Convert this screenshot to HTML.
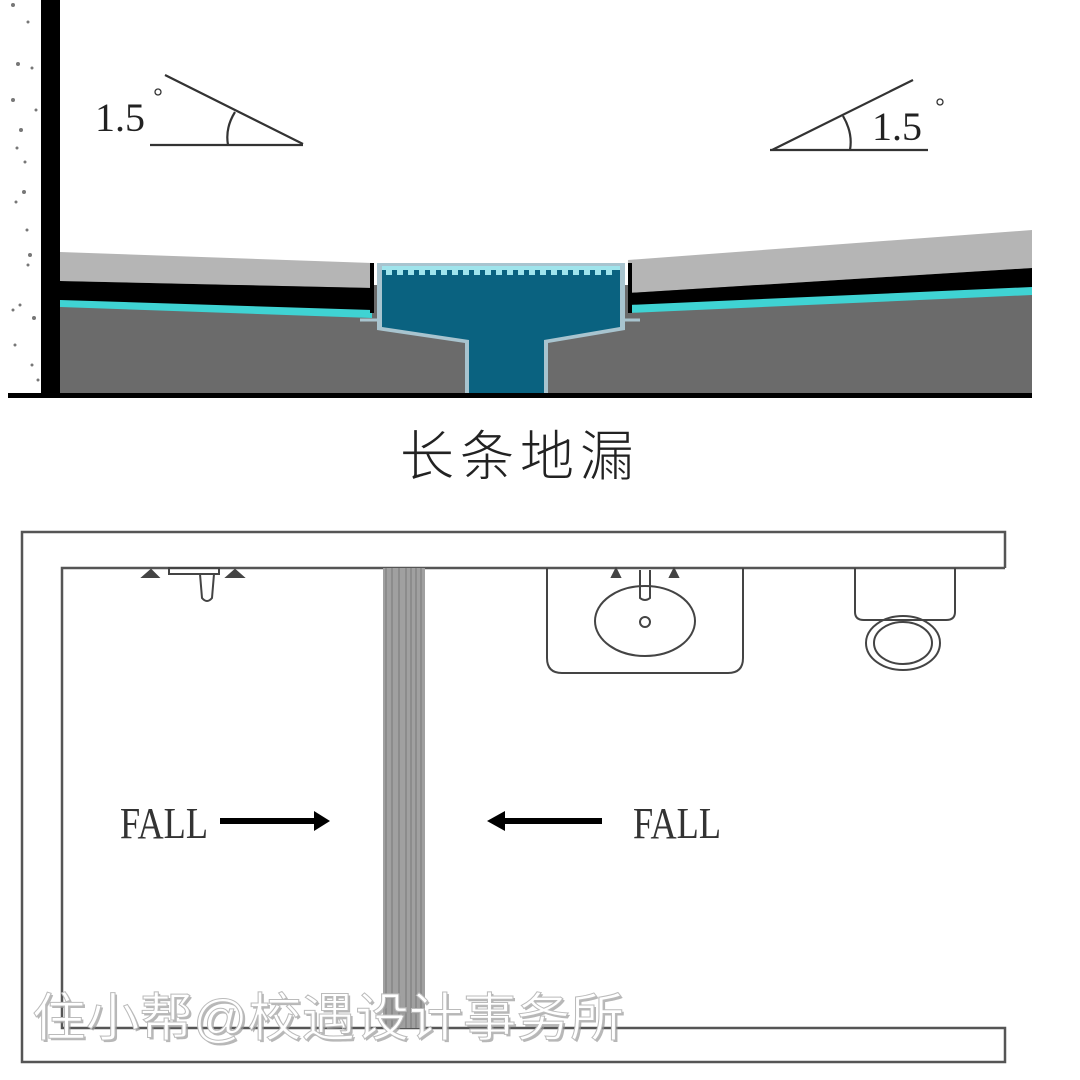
<!DOCTYPE html>
<html><head><meta charset="utf-8"><style>html,body{margin:0;padding:0;background:#fff}svg{display:block}</style></head>
<body>
<svg width="1080" height="1080" viewBox="0 0 1080 1080" xmlns="http://www.w3.org/2000/svg">
<rect width="1080" height="1080" fill="#fff"/>
<g fill="#777">
<circle cx="13" cy="5" r="2"/><circle cx="28" cy="22" r="1.5"/><circle cx="18" cy="64" r="2"/><circle cx="32" cy="68" r="1.5"/><circle cx="13" cy="100" r="2"/><circle cx="36" cy="110" r="1.5"/><circle cx="21" cy="130" r="2"/><circle cx="17" cy="148" r="1.5"/><circle cx="25" cy="162" r="1.5"/><circle cx="24" cy="192" r="2"/><circle cx="16" cy="202" r="1.5"/><circle cx="27" cy="230" r="1.5"/><circle cx="30" cy="255" r="2"/><circle cx="28" cy="265" r="1.5"/><circle cx="20" cy="305" r="1.5"/><circle cx="13" cy="310" r="1.5"/><circle cx="34" cy="318" r="2"/><circle cx="15" cy="345" r="1.5"/><circle cx="32" cy="365" r="1.5"/><circle cx="38" cy="380" r="1.5"/>
</g>
<rect x="60" y="285" width="972" height="110" fill="#6b6b6b"/>
<polygon points="60,252 372,263 372,288 60,281" fill="#b5b5b5"/>
<polygon points="60,281 372,288 372,313 60,303" fill="#000"/>
<polygon points="60,300 372,310 372,318 60,307" fill="#3fd3d3"/>
<polygon points="628,260 1032,230 1032,268 628,293" fill="#b5b5b5"/>
<polygon points="628,293 1032,268 1032,292 628,308" fill="#000"/>
<polygon points="628,305 1032,287 1032,295 628,313" fill="#3fd3d3"/>
<rect x="41" y="0" width="19" height="398" fill="#000"/>
<line x1="360" y1="320" x2="640" y2="320" stroke="#a8c4cf" stroke-width="3"/>
<polygon points="377,263 625,263 625,330 548,343 548,395 465,395 465,343 377,330" fill="#a8c4cf"/>
<polygon points="382,266 620,266 620,327 544,340 544,395 469,395 469,340 382,327" fill="#0a6280"/>
<rect x="382" y="266" width="238" height="4" fill="#9fe4ec"/>
<g fill="#9fe4ec">
<rect x="386" y="268" width="6" height="7"/><rect x="397" y="268" width="6" height="7"/><rect x="408" y="268" width="6" height="7"/><rect x="419" y="268" width="6" height="7"/><rect x="430" y="268" width="6" height="7"/><rect x="441" y="268" width="6" height="7"/><rect x="452" y="268" width="6" height="7"/><rect x="463" y="268" width="6" height="7"/><rect x="474" y="268" width="6" height="7"/><rect x="485" y="268" width="6" height="7"/><rect x="496" y="268" width="6" height="7"/><rect x="507" y="268" width="6" height="7"/><rect x="518" y="268" width="6" height="7"/><rect x="529" y="268" width="6" height="7"/><rect x="540" y="268" width="6" height="7"/><rect x="551" y="268" width="6" height="7"/><rect x="562" y="268" width="6" height="7"/><rect x="573" y="268" width="6" height="7"/><rect x="584" y="268" width="6" height="7"/><rect x="595" y="268" width="6" height="7"/><rect x="606" y="268" width="6" height="7"/>
</g>
<rect x="370" y="263" width="4" height="50" fill="#000"/>
<rect x="628" y="263" width="4" height="50" fill="#000"/>
<rect x="8" y="393" width="1024" height="5" fill="#000"/>
<g stroke="#333" stroke-width="2.2" fill="none">
<line x1="165" y1="75" x2="303" y2="144"/><line x1="150" y1="145" x2="303" y2="145"/>
<path d="M235,112 Q225,128 228,145"/>
<line x1="913" y1="80" x2="772" y2="150"/><line x1="770" y1="150" x2="928" y2="150"/>
<path d="M843,116 Q853,133 850,150"/>
<circle cx="158" cy="92" r="3" stroke-width="1.3"/>
<circle cx="940" cy="102" r="3" stroke-width="1.3"/>
</g>
<text x="95" y="131" font-family="Liberation Serif, serif" font-size="40" fill="#222">1.5</text>
<text x="872" y="140" font-family="Liberation Serif, serif" font-size="40" fill="#222">1.5</text>
<text x="520" y="475" text-anchor="middle" font-family="Liberation Sans, Noto Sans CJK SC, sans-serif" font-size="54" font-weight="300" fill="#222" letter-spacing="6">长条地漏</text>
<g stroke="#555" stroke-width="2.5" fill="none">
<polyline points="1005,568 1005,532 22,532 22,1062 1005,1062 1005,1028 62,1028 62,568 1005,568"/>
</g>
<rect x="383" y="568" width="42" height="460" fill="#a0a0a0"/>
<g stroke="#777" stroke-width="1">
<line x1="386" y1="568" x2="386" y2="1028"/><line x1="392" y1="568" x2="392" y2="1028"/><line x1="399" y1="568" x2="399" y2="1028"/><line x1="406" y1="568" x2="406" y2="1028"/><line x1="411" y1="568" x2="411" y2="1028"/><line x1="416" y1="568" x2="416" y2="1028"/><line x1="421" y1="568" x2="421" y2="1028"/>
</g>
<g stroke="#444" stroke-width="2" fill="none">
<path d="M143,577 L151,570 L158,577 Z" fill="#444"/>
<path d="M227,577 L235,570 L243,577 Z" fill="#444"/>
<rect x="169" y="568" width="50" height="6"/>
<path d="M200,574 L202,598 Q207,604 212,598 L214,574"/>
<path d="M547,568 V658 Q547,673 562,673 H728 Q743,673 743,658 V568"/>
<ellipse cx="645" cy="621" rx="50" ry="35"/>
<circle cx="645" cy="622" r="5"/>
<path d="M640,570 V598 Q645,602 650,598 V570"/>
<path d="M612,577 L616,569 L620,577 Z" fill="#444"/>
<path d="M670,577 L674,569 L678,577 Z" fill="#444"/>
<path d="M855,568 V612 Q855,620 864,620 H946 Q955,620 955,612 V568"/>
<ellipse cx="903" cy="643" rx="37" ry="27"/>
<ellipse cx="903" cy="643" rx="29" ry="21"/>
</g>
<text x="120" y="838" font-family="Liberation Serif, serif" font-size="44" fill="#333" textLength="88" lengthAdjust="spacingAndGlyphs">FALL</text>
<text x="633" y="838" font-family="Liberation Serif, serif" font-size="44" fill="#333" textLength="88" lengthAdjust="spacingAndGlyphs">FALL</text>
<rect x="220" y="818" width="96" height="6" fill="#000"/>
<polygon points="314,811 330,821 314,831" fill="#000"/>
<rect x="503" y="818" width="99" height="6" fill="#000"/>
<polygon points="505,811 487,821 505,831" fill="#000"/>
<text x="32" y="1036" font-family="Liberation Sans, Noto Sans CJK SC, sans-serif" font-size="52" fill="#999" opacity="0.7" transform="translate(2,2)" textLength="592" lengthAdjust="spacingAndGlyphs">住小帮@校遇设计事务所</text>
<text x="32" y="1036" font-family="Liberation Sans, Noto Sans CJK SC, sans-serif" font-size="52" fill="#fff" stroke="#bbb" stroke-width="1" textLength="592" lengthAdjust="spacingAndGlyphs">住小帮@校遇设计事务所</text>
</svg>
</body></html>
